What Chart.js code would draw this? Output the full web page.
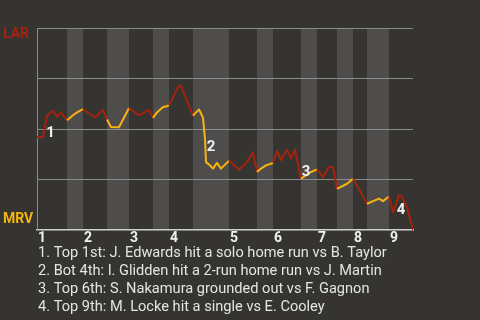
<!DOCTYPE html>
<html>
<head>
<meta charset="utf-8">
<script src="https://cdn.jsdelivr.net/npm/chart.js@4.4.1/dist/chart.umd.min.js"></script>
<style>
  html, body { margin: 0; padding: 0; background: #363431; }
  #wrap { width: 480px; height: 320px; }
</style>
</head>
<body>
<div id="wrap"><canvas id="wp_chart"></canvas></div>
<script>
// play number (x) and LAR win probability after that play
const plays = [0, 1.5, 2.5, 4, 5, 6, 7.5, 9, 10, 11.5, 14.5, 16.5, 17.5, 18.5, 20.5, 23, 25.5, 28, 29, 30, 31.5, 32.5, 33, 35.5, 36, 39, 40.5, 41, 41.5, 42, 42.25, 43.25, 44, 45, 46, 48, 50.5, 52.5, 54, 55, 56, 57.25, 59, 60, 61, 62.5, 63.5, 64.5, 66, 68.5, 70, 71.5, 73, 74, 75, 77.5, 79, 81, 82.5, 85.5, 86.5, 88, 89, 90.5, 91, 92.5, 94];
const larWinProb = [0.461, 0.461, 0.565, 0.590, 0.560, 0.582, 0.543, 0.568, 0.582, 0.598, 0.557, 0.595, 0.547, 0.510, 0.509, 0.604, 0.567, 0.595, 0.555, 0.582, 0.609, 0.613, 0.618, 0.714, 0.714, 0.566, 0.597, 0.577, 0.556, 0.450, 0.336, 0.320, 0.304, 0.332, 0.304, 0.343, 0.299, 0.336, 0.386, 0.287, 0.304, 0.320, 0.332, 0.391, 0.345, 0.398, 0.353, 0.398, 0.254, 0.287, 0.300, 0.262, 0.312, 0.312, 0.204, 0.229, 0.253, 0.184, 0.130, 0.155, 0.143, 0.166, 0.088, 0.171, 0.171, 0.113, 0];

// first play of each half inning (top 1, bot 1, top 2, ...), last play
const halfStarts = [0, 7.5, 11.5, 17.5, 23, 29, 33, 39, 48, 55, 59, 66, 70, 75, 79, 82.5, 88];
const lastPlay = 94;
const innings = ['1', '2', '3', '4', '5', '6', '7', '8', '9'];

const teams = ['LAR', 'MRV'];

// key plays: marker, where the marker sits, description
const keyMarks = ['1', '2', '3', '4'];
const keyPlays = [3.4, 43.5, 67.25, 91];
const keyProbs = [0.479, 0.409, 0.285, 0.097];
const keyNotes = [
    '1. Top 1st: J. Edwards hit a solo home run vs B. Taylor',
    '2. Bot 4th: I. Glidden hit a 2-run home run vs J. Martin',
    '3. Top 6th: S. Nakamura grounded out vs F. Gagnon',
    '4. Top 9th: M. Locke hit a single vs E. Cooley'
];

const RED = '#a3230f';
const YELLOW = '#f6b412';

function isBottomHalf(x) {
    for (let i = halfStarts.length - 1; i >= 0; i--) {
        if (x >= halfStarts[i]) return i % 2 === 1;
    }
    return false;
}

const extras = {
    id: 'extras',
    beforeDraw(chart) {
        const {ctx, chartArea, scales} = chart;
        ctx.save();
        ctx.fillStyle = '#4e4d4b';
        for (let i = 1; i < halfStarts.length; i += 2) {
            const x0 = scales.x.getPixelForValue(halfStarts[i]);
            const end = i + 1 < halfStarts.length ? halfStarts[i + 1] : lastPlay;
            const x1 = scales.x.getPixelForValue(end);
            ctx.fillRect(x0, chartArea.top, x1 - x0, chartArea.bottom - chartArea.top);
        }
        ctx.restore();
    },
    afterDraw(chart) {
        const {ctx, chartArea, scales} = chart;
        ctx.save();
        ctx.textBaseline = 'middle';

        ctx.font = "bold 14px Roboto";
        ctx.textAlign = 'left';
        ctx.fillStyle = RED;
        ctx.fillText(teams[0], 3, chartArea.top + 6);
        ctx.fillStyle = YELLOW;
        ctx.fillText(teams[1], 3, chartArea.bottom - 11);

        ctx.fillStyle = '#f0f0f0';
        innings.forEach((lbl, i) => {
            ctx.fillText(lbl, scales.x.getPixelForValue(halfStarts[i * 2]) + 1, chartArea.bottom + 8);
        });

        ctx.font = "bold 15px Roboto";
        ctx.textAlign = 'center';
        keyMarks.forEach((m, i) => {
            ctx.fillText(m, scales.x.getPixelForValue(keyPlays[i]), scales.y.getPixelForValue(keyProbs[i]));
        });

        ctx.font = "14.6px Roboto";
        ctx.textAlign = 'left';
        ctx.fillStyle = '#e4e4e4';
        keyNotes.forEach((t, i) => {
            ctx.fillText(t, chartArea.left + 1, chartArea.bottom + 23.5 + i * 17.8);
        });
        ctx.restore();
    }
};

const chart = new Chart(document.getElementById('wp_chart'), {
    type: 'line',
    data: {
        datasets: [{
            data: plays.map((x, i) => ({x: x, y: larWinProb[i]})),
            borderWidth: 2,
            borderJoinStyle: 'round',
            pointRadius: 0,
            tension: 0,
            borderColor: RED,
            segment: {
                borderColor: c => isBottomHalf(c.p0.parsed.x) ? YELLOW : RED
            }
        }]
    },
    plugins: [extras],
    options: {
        responsive: true,
        maintainAspectRatio: false,
        animation: false,
        layout: {
            padding: {left: 37, right: 67, top: 28, bottom: 90}
        },
        plugins: {
            legend: {display: false},
            tooltip: {enabled: false}
        },
        scales: {
            x: {
                type: 'linear',
                min: 0,
                max: lastPlay,
                ticks: {display: false},
                grid: {display: false, drawTicks: false},
                border: {display: true, color: '#cfcfcf', width: 1.5}
            },
            y: {
                min: 0,
                max: 1,
                ticks: {display: false, stepSize: 0.25},
                grid: {
                    drawTicks: false,
                    color: c => c.tick && c.tick.value === 0 ? 'rgba(0,0,0,0)' : '#8b8b8b'
                },
                border: {display: true, color: '#8b8b8b', width: 1}
            }
        }
    }
});
</script>
</body>
</html>
